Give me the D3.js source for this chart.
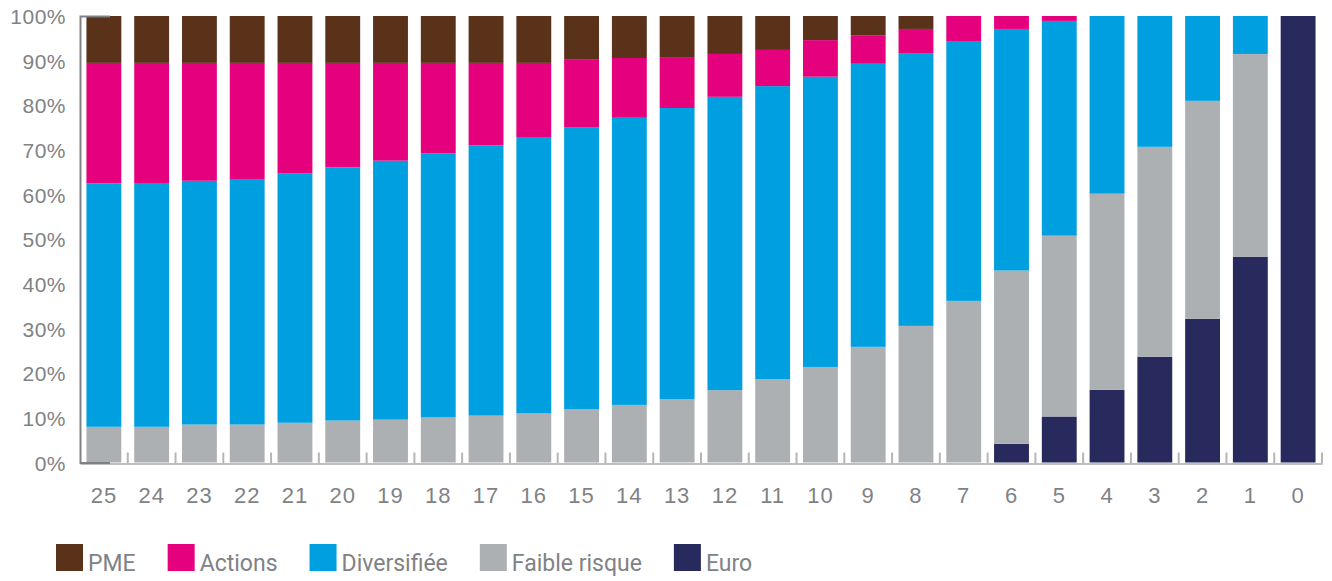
<!DOCTYPE html>
<html>
<head>
<meta charset="utf-8">
<title>Répartition par horizon</title>
<script src="https://d3js.org/d3.v7.min.js"></script>
<style>
  body { margin: 0; background: #fff; font-family: Roboto, "Liberation Sans", Arial, sans-serif; }
  .axis text { fill: #808285; font-size: 21px; letter-spacing: 0.5px; }
  .xaxis text { font-size: 22px; letter-spacing: 1px; }
  .legend text { fill: #808285; font-size: 23px; }
</style>
</head>
<body>
<div id="chart"></div>
<script>
  // years remaining before the horizon
  const categories = ["25","24","23","22","21","20","19","18","17","16","15","14","13","12","11","10","9","8","7","6","5","4","3","2","1","0"];

  // shares in % (bottom to top of each bar)
  const euro        = [0,0,0,0,0,0,0,0,0,0,0,0,0,0,0,0,0,0,0,4.2,10.3,16.3,23.7,32.2,46.1,100];
  const faible      = [8.0,8.0,8.5,8.5,8.9,9.4,9.6,10.1,10.5,11.0,11.9,12.9,14.2,16.2,18.7,21.4,25.9,30.6,36.2,38.8,40.5,43.9,47.0,48.8,45.4,0];
  const diversifiee = [54.5,54.6,54.6,55.0,55.8,56.7,58.0,59.1,60.5,61.9,63.1,64.3,65.2,65.7,65.6,65.0,63.4,61.1,58.2,54.1,48.1,39.8,29.3,19.0,8.5,0];
  const actions     = [27.0,26.9,26.4,26.0,24.8,23.4,21.9,20.3,18.5,16.6,15.2,13.4,11.4,9.6,8.1,8.2,6.4,5.4,5.6,2.9,1.1,0,0,0,0,0];
  const pme         = [10.5,10.5,10.5,10.5,10.5,10.5,10.5,10.5,10.5,10.5,9.8,9.4,9.2,8.5,7.6,5.4,4.3,2.9,0,0,0,0,0,0,0,0];

  const yTicks = [0,10,20,30,40,50,60,70,80,90,100];

  const seriesKeys = ["euro","faible","diversifiee","actions","pme"];
  const seriesLabels = { pme: "PME", actions: "Actions", diversifiee: "Diversifiée", faible: "Faible risque", euro: "Euro" };
  const colors = { pme: "#5a3119", actions: "#e5007e", diversifiee: "#009fe0", faible: "#adb0b3", euro: "#282a5e" };
  const legendOrder = ["pme","actions","diversifiee","faible","euro"];

  const rows = categories.map((c, i) => ({
    cat: c, euro: euro[i], faible: faible[i], diversifiee: diversifiee[i], actions: actions[i], pme: pme[i]
  }));

  const width = 1332, height = 581;
  const plotLeft = 80, plotRight = 1322, plotTop = 16, plotBottom = 462.5;

  const svg = d3.select("#chart").append("svg")
    .attr("width", width)
    .attr("height", height);

  const x = d3.scaleBand()
    .domain(categories)
    .range([plotLeft, plotRight])
    .paddingInner(0.27)
    .paddingOuter(0.135);

  const y = d3.scaleLinear()
    .domain([0, 100])
    .range([plotBottom, plotTop]);

  const stacked = d3.stack().keys(seriesKeys)(rows);

  svg.append("g")
    .selectAll("g")
    .data(stacked)
    .enter().append("g")
    .attr("fill", d => colors[d.key])
    .selectAll("rect")
    .data(d => d)
    .enter().append("rect")
    .attr("x", d => x(d.data.cat))
    .attr("width", x.bandwidth())
    .attr("y", d => y(d[1]))
    .attr("height", d => y(d[0]) - y(d[1]));

  // x axis: light baseline + small ticks between bars
  const xAxis = svg.append("g")
    .attr("class", "axis xaxis")
    .attr("transform", `translate(0,${plotBottom + 1})`)
    .call(d3.axisBottom(x).tickSize(0).tickPadding(0));
  xAxis.select(".domain").attr("stroke", "#bcbec0").attr("stroke-width", 2);
  xAxis.selectAll("text").attr("y", 39).attr("dy", null);

  const step = x.step();
  svg.append("g")
    .selectAll("line")
    .data(categories)
    .enter().append("line")
    .attr("x1", d => x(d) + x.bandwidth() + step * x.paddingInner() / 2)
    .attr("x2", d => x(d) + x.bandwidth() + step * x.paddingInner() / 2)
    .attr("y1", plotBottom - 10)
    .attr("y2", plotBottom + 1)
    .attr("stroke", "#b4b6b8")
    .attr("stroke-width", 2);

  // y axis
  const yAxis = svg.append("g")
    .attr("class", "axis")
    .attr("transform", `translate(${plotLeft},0)`)
    .call(d3.axisLeft(y)
      .tickValues(yTicks)
      .tickFormat(d => d + "%")
      .tickSizeInner(0)
      .tickSizeOuter(-30)
      .tickPadding(14));
  yAxis.select(".domain").attr("stroke", "#7f8184").attr("stroke-width", 2);
  yAxis.selectAll("text").attr("dy", "0.36em");

  // legend
  const legend = svg.append("g").attr("class", "legend");
  let lx = 56;
  legendOrder.forEach(k => {
    legend.append("rect")
      .attr("x", lx).attr("y", 544)
      .attr("width", 27).attr("height", 27)
      .attr("fill", colors[k]);
    const t = legend.append("text")
      .attr("x", lx + 32).attr("y", 571)
      .text(seriesLabels[k]);
    lx += 32 + t.node().getComputedTextLength() + 32;
  });
</script>
</body>
</html>
